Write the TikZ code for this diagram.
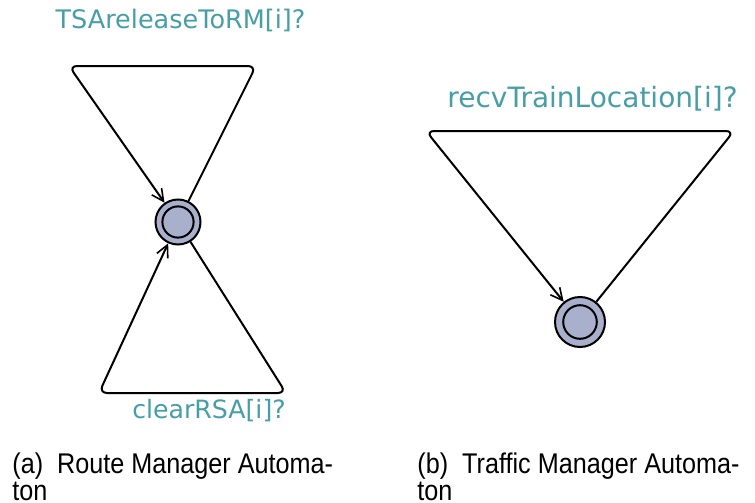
\documentclass[tikz,border=0pt]{standalone}
\usepackage{fontspec}
\newfontfamily\syncfont{DejaVu Sans}
\newfontfamily\capfont{Liberation Sans}
\usetikzlibrary{arrows.meta}
\definecolor{locfill}{RGB}{168,176,204}
\definecolor{synccol}{RGB}{70,158,166}
\tikzset{
	location/.style={circle, draw, line width=1pt, fill=locfill, inner sep=0pt},
	edge/.style={line width=1pt, rounded corners=4pt, -{Straight Barb[length=6pt,width=6pt,line width=0.8pt]}},
	sync/.style={text=synccol, anchor=base, inner sep=0pt},
	caption/.style={anchor=base west, inner sep=0pt, font=\capfont\fontsize{12.6pt}{13.5pt}\selectfont}
}
\newcommand{\drawLocation}[4]{
	\node[location, minimum size=#3] (#1) at (#2) {};
	\draw[line width=1pt] (#1.center) circle (#4);
}
\newcommand{\capText}[1]{\scalebox{1}[1.13]{#1}}

\begin{document}
\begin{tikzpicture}[x=0.5pt, y=-0.5pt]
		\useasboundingbox (0,0) rectangle (755,503);

		% route manager
		\coordinate (RM_TL) at (69,66);
		\coordinate (RM_TR) at (256,66);
		\coordinate (RM_BL) at (99,393);
		\coordinate (RM_BR) at (286,393);
		\drawLocation{RM}{178,222}{22.5pt}{7.8pt}
		\draw[edge] (RM) -- (RM_TR) -- (RM_TL) -- (RM);
		\draw[edge] (RM) -- (RM_BR) -- (RM_BL) -- (RM);
		\node[sync, font=\syncfont\fontsize{12.75pt}{14pt}\selectfont] (RM_rel) at (180.5,28) {TSAreleaseToRM[i]?};
		\node[sync, font=\syncfont\fontsize{12.6pt}{14pt}\selectfont] (RM_clr) at (209,418) {clearRSA[i]?};

		% traffic manager
		\coordinate (TM_TL) at (426,131);
		\coordinate (TM_TR) at (734,131);
		\drawLocation{TM}{580,322}{25pt}{8.4pt}
		\draw[edge] (TM) -- (TM_TR) -- (TM_TL) -- (TM);
		\node[sync, font=\syncfont\fontsize{14pt}{16pt}\selectfont] (TM_recv) at (592.5,107) {recvTrainLocation[i]?};

		\node[caption] (cap_a1) at (12,473) {\capText{(a)\ \ Route Manager Automa-}};
		\node[caption] (cap_a2) at (12,500) {\capText{ton}};
		\node[caption] (cap_b1) at (417,473) {\capText{(b)\ \ Traffic Manager Automa-}};
		\node[caption] (cap_b2) at (417,500) {\capText{ton}};

	\end{tikzpicture}
\end{document}
